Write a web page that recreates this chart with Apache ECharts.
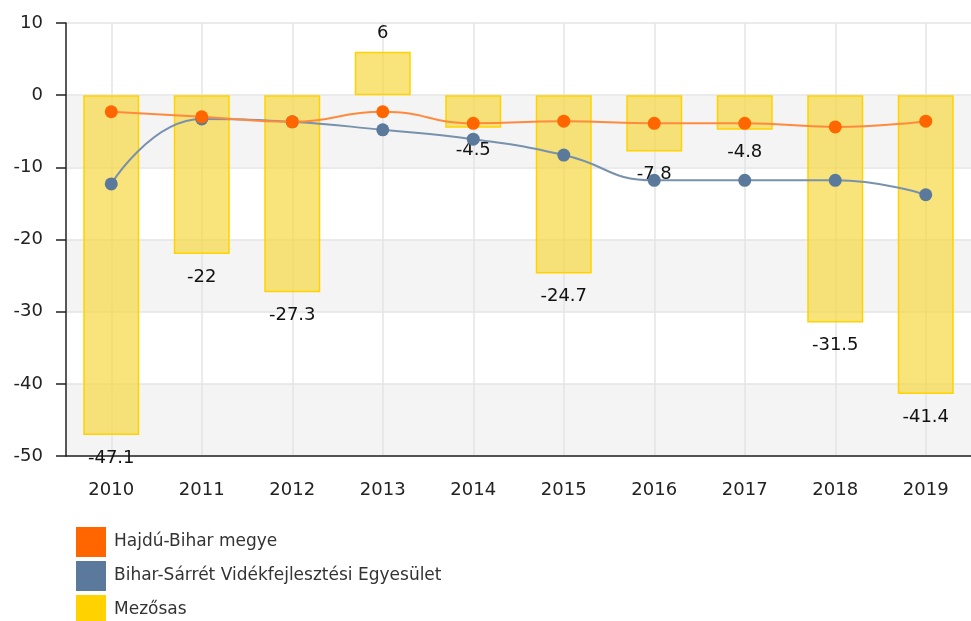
<!DOCTYPE html>
<html>
<head>
<meta charset="utf-8">
<script src="https://cdn.jsdelivr.net/npm/echarts@6/dist/echarts.min.js"></script>
<style>
  html, body { margin: 0; padding: 0; background: #fff; }
  #chart { width: 971px; height: 621px; }
</style>
</head>
<body>
<div id="chart"></div>
<script>
const years = ['2010', '2011', '2012', '2013', '2014', '2015', '2016', '2017', '2018', '2019'];
const hajduBihar = [-2.3, -3.0, -3.7, -2.3, -3.9, -3.6, -3.9, -3.9, -4.4, -3.6];
const biharSarret = [-12.3, -3.3, -3.7, -4.8, -6.1, -8.3, -11.8, -11.8, -11.8, -13.8];
const mezosas = [-47.1, -22, -27.3, 6, -4.5, -24.7, -7.8, -4.8, -31.5, -41.4];

const font = 'DejaVu Sans, Verdana, sans-serif';
const chart = echarts.init(document.getElementById('chart'));

const option = {
  backgroundColor: '#fff',
  animation: false,
  textStyle: { fontFamily: font },
  grid: { left: 66, right: -7, top: 23, bottom: 165 },
  legend: {
    orient: 'vertical',
    left: 76,
    top: 527,
    height: 200,
    padding: 0,
    itemWidth: 30,
    itemHeight: 30,
    itemGap: 4,
    icon: 'rect',
    data: [
      { name: 'Hajdú-Bihar megye' },
      { name: 'Bihar-Sárrét Vidékfejlesztési Egyesület' },
      { name: 'Mezősas', itemStyle: { color: '#ffd200', borderWidth: 0 } }
    ],
    textStyle: { fontSize: 17, color: '#333', fontFamily: font, padding: [0, 0, 0, 3] }
  },
  xAxis: {
    type: 'category',
    data: years,
    axisLine: { onZero: false, lineStyle: { color: '#222', width: 1.5 } },
    axisTick: { alignWithLabel: true, length: 7, lineStyle: { color: '#222', width: 1.5 } },
    axisLabel: { fontSize: 18, color: '#222', margin: 25 },
    splitLine: { show: true, alignWithLabel: true, lineStyle: { color: '#e4e4e4', width: 1.5 } }
  },
  yAxis: {
    type: 'value',
    min: -50,
    max: 10,
    interval: 10,
    axisLine: { show: true, lineStyle: { color: '#222', width: 1.5 } },
    axisTick: { show: true, length: 10, lineStyle: { color: '#222', width: 1.5 } },
    axisLabel: { fontSize: 18, color: '#222', margin: 23 },
    splitLine: { lineStyle: { color: '#e4e4e4', width: 1.5 } },
    splitArea: { show: true, areaStyle: { color: ['#f4f4f4', '#ffffff'] } }
  },
  series: [
    {
      name: 'Mezősas',
      type: 'bar',
      z: 1,
      barWidth: 56,
      // negative bars get their label below, positive ones above
      data: mezosas.map(v => ({
        value: v,
        label: v >= 0 ? { position: 'top', distance: 10 } : { position: 'bottom', distance: 14 }
      })),
      itemStyle: {
        color: 'rgba(246,214,60,0.68)',
        borderColor: '#ffd200',
        borderWidth: 1.5
      },
      label: {
        show: true,
        fontSize: 18,
        color: '#111',
        fontFamily: font
      }
    },
    {
      name: 'Hajdú-Bihar megye',
      type: 'line',
      z: 3,
      smooth: true,
      data: hajduBihar,
      symbol: 'circle',
      symbolSize: 13,
      itemStyle: { color: '#ff6600' },
      lineStyle: { color: '#ff8a3d', width: 2 }
    },
    {
      name: 'Bihar-Sárrét Vidékfejlesztési Egyesület',
      type: 'line',
      z: 2,
      smooth: true,
      data: biharSarret,
      symbol: 'circle',
      symbolSize: 13,
      itemStyle: { color: '#5b7a9b' },
      lineStyle: { color: '#7891ad', width: 2 }
    }
  ]
};

chart.setOption(option);
</script>
</body>
</html>
